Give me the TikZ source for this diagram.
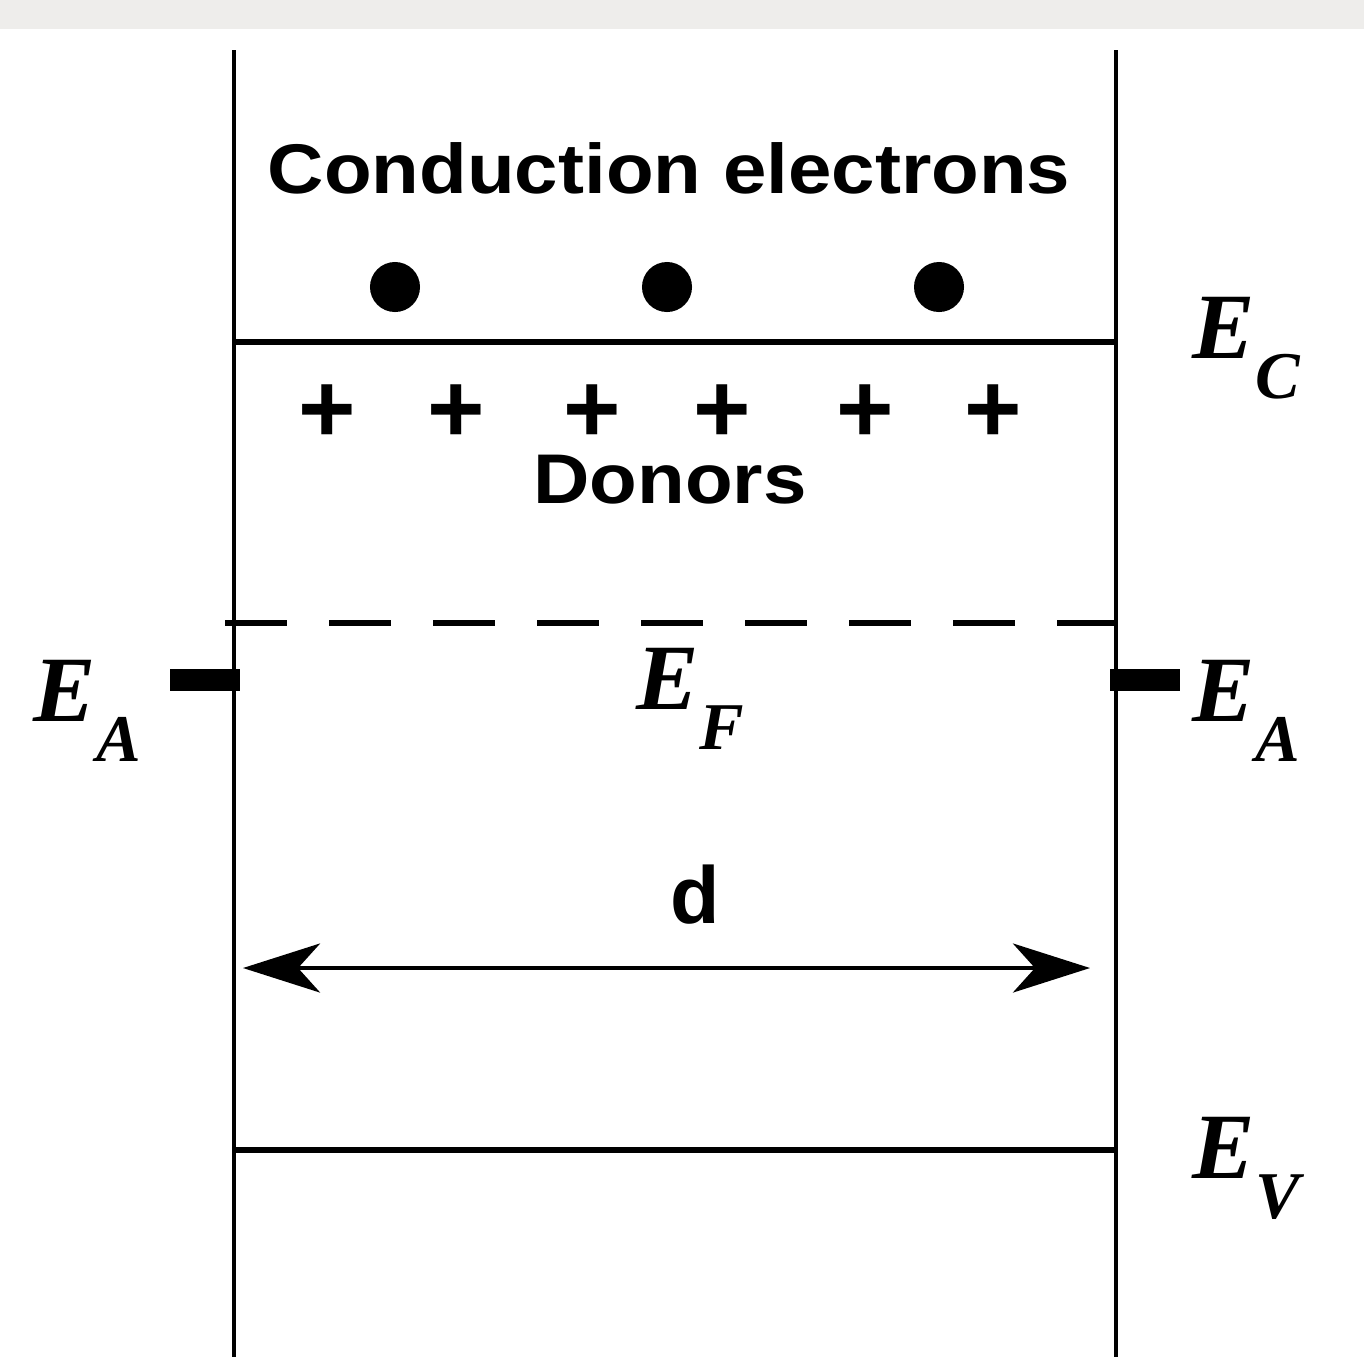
\documentclass[tikz,border=0pt]{standalone}
\usepackage{fontspec}
\setmainfont{Liberation Serif}
\setsansfont{Liberation Sans}
\newfontfamily\widesans[FakeStretch=1.11]{Liberation Sans}
\usetikzlibrary{arrows.meta,positioning}
\definecolor{bandgrey}{RGB}{238,237,235}
\newcommand{\lvl}[1]{\textbf{\textit{E}}\raisebox{-11.6pt}{\fontsize{19}{19}\selectfont\textbf{\textit{#1}}}}

\begin{document}
\begin{tikzpicture}[
    x=0.01cm, y=-0.01cm,
    wall/.style={line width=1.4pt},
    level/.style={line width=1.8pt},
    fermi/.style={line width=1.8pt, dash pattern=on 0.62cm off 0.42cm},
    txt/.style={font=\widesans\bfseries\fontsize{20}{24}\selectfont, inner sep=0pt, anchor=base},
    plus/.style={font=\sffamily\bfseries\fontsize{28}{30}\selectfont, inner sep=0pt, text depth=0pt, anchor=base},
    lvlname/.style={font=\fontsize{26.6}{30}\selectfont, inner sep=0pt, anchor=base west},
    electron/.style={circle, fill=black, minimum size=0.5cm, inner sep=0pt},
    acceptor/.style={rectangle, fill=black, minimum width=0.7cm, minimum height=0.22cm, inner sep=0pt},
    dimarrow/.style={{Stealth[length=7.7mm, width=4.9mm, inset=2.2mm]}-{Stealth[length=7.7mm, width=4.9mm, inset=2.2mm]}, line width=1.2pt}
]
\useasboundingbox (0,0) rectangle (1364,1363);
\fill[bandgrey] (0,0) rectangle (1364,29);

% Walls of the layer
\coordinate (tl) at (234,50);
\coordinate (bl) at (234,1357);
\coordinate (tr) at (1116,50);
\coordinate (br) at (1116,1357);
\draw[wall] (tl) -- (bl);
\draw[wall] (tr) -- (br);

% Band edges and Fermi level
\coordinate (ecl) at (234,342);
\coordinate (ecr) at (1116,342);
\coordinate (evl) at (234,1150);
\coordinate (evr) at (1116,1150);
\coordinate (efl) at (225,623);
\coordinate (efr) at (1116,623);
\draw[level] (ecl) -- (ecr);
\draw[level] (evl) -- (evr);
\draw[fermi] (efl) -- (efr);

% Conduction electrons
\node[txt] (cond) at (669,193) {Conduction electrons};
\foreach \x/\n in {395/1, 667/2, 939/3}
    \node[electron] (e\n) at (\x,287) {};

% Donors
\foreach \x/\n in {327/1, 456/2, 592/3, 722/4, 865/5, 993/6}
    \node[plus] (p\n) at (\x,442) {+};
\node[txt] (donors) at (670,503) {Donors};

% Acceptor levels at the surfaces
\node[acceptor] (accl) at (205,680) {};
\node[acceptor] (accr) at (1145,680) {};

% Level names
\node[lvlname] (ec) at (1192,358) {\lvl{C}};
\node[lvlname] (eal) at (33,721) {\lvl{A}};
\node[lvlname] (ef) at (636,709) {\lvl{F}};
\node[lvlname] (ear) at (1192,721) {\lvl{A}};
\node[lvlname] (ev) at (1192,1178) {\lvl{V}};

% Thickness
\coordinate (dl) at (243,968);
\coordinate (dr) at (1090,968);
\draw[dimarrow] (dl) -- (dr);
\node[txt, font=\sffamily\bfseries\fontsize{23}{26}\selectfont] (d) at (695,923) {d};

\end{tikzpicture}
\end{document}
